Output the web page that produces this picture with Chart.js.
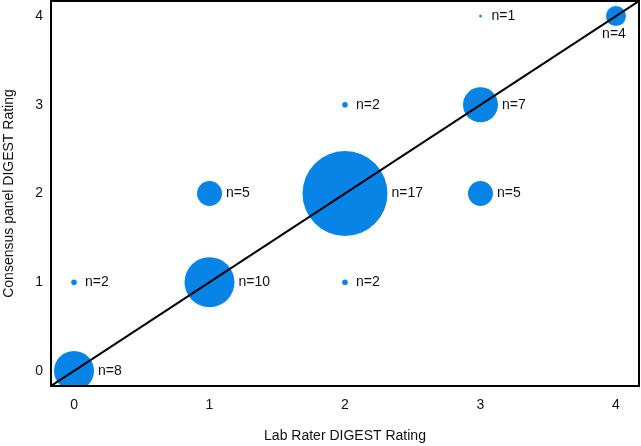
<!DOCTYPE html>
<html>
<head>
<meta charset="utf-8">
<script src="https://cdn.jsdelivr.net/npm/chart.js@4/dist/chart.umd.min.js"></script>
<style>
  html, body { margin: 0; padding: 0; background: #fff; }
  #wrap { width: 641px; height: 446px; }
</style>
</head>
<body>
<div id="wrap"><canvas id="chart"></canvas></div>
<script>
// ratings given by the lab rater (x) and the consensus panel (y), with counts
const labRating = [0, 1, 2, 3, 4, 3, 1, 0, 2, 2, 3];
const panelRating = [0, 1, 2, 3, 4, 2, 2, 1, 3, 1, 4];
const counts = [8, 10, 17, 7, 4, 5, 5, 2, 2, 2, 1];
const tickValues = [0, 1, 2, 3, 4];
const axisMin = -0.17;
const axisMax = 4.17;

const blue = "rgb(8, 132, 230)";
const fontFamily = "'Liberation Sans', Arial, sans-serif";

// size scale for the bubbles
const radiusFor = (n) => (n <= 2 ? 1.4 * n : 2.5 * n);

const points = labRating.map((x, i) => ({
  x: x,
  y: panelRating[i],
  r: radiusFor(counts[i]),
}));

const countLabels = {
  id: "countLabels",
  afterDatasetsDraw(chart) {
    const ctx = chart.ctx;
    const area = chart.chartArea;
    const meta = chart.getDatasetMeta(1);
    ctx.save();
    ctx.font = "14px " + fontFamily;
    ctx.fillStyle = "#111";
    meta.data.forEach((el, i) => {
      const text = "n=" + counts[i];
      const r = points[i].r;
      const w = ctx.measureText(text).width;
      let x = el.x + Math.max(r + 4, 11);
      if (x + w > area.right) {
        // no room on the right: put it under the bubble
        ctx.textAlign = "center";
        ctx.textBaseline = "top";
        ctx.fillText(text, el.x - 2, el.y + r + 1);
      } else {
        ctx.textAlign = "left";
        ctx.textBaseline = "middle";
        ctx.fillText(text, x, el.y);
      }
    });
    ctx.restore();
  },
  afterDraw(chart) {
    const ctx = chart.ctx;
    const a = chart.chartArea;
    ctx.save();
    ctx.strokeStyle = "#000";
    ctx.lineWidth = 2;
    ctx.strokeRect(a.left, a.top, a.right - a.left, a.bottom - a.top);
    ctx.restore();
  },
};

new Chart(document.getElementById("chart"), {
  type: "bubble",
  data: {
    datasets: [
      {
        type: "line",
        data: [
          { x: axisMin, y: axisMin },
          { x: axisMax, y: axisMax },
        ],
        borderColor: "#000",
        borderWidth: 2,
        pointRadius: 0,
        tension: 0,
        order: 0,
      },
      {
        data: points,
        backgroundColor: blue,
        borderWidth: 0,
        order: 1,
      },
    ],
  },
  options: {
    responsive: true,
    maintainAspectRatio: false,
    animation: false,
    events: [],
    layout: { autoPadding: false, padding: { top: 1, right: 2, left: 0, bottom: 0 } },
    plugins: {
      legend: { display: false },
      tooltip: { enabled: false },
    },
    scales: {
      x: {
        type: "linear",
        min: axisMin,
        max: axisMax,
        afterBuildTicks: (s) => { s.ticks = tickValues.map((v) => ({ value: v })); },
        afterFit: (s) => {
          s.height = 60;
          s.paddingLeft = 0;
          s.paddingRight = 0;
        },
        grid: { display: false, drawTicks: false },
        border: { display: false },
        ticks: { color: "#111", padding: 11, font: { size: 14, family: fontFamily } },
        title: {
          display: true,
          text: "Lab Rater DIGEST Rating",
          color: "#111",
          padding: { top: 0, bottom: 1 },
          font: { size: 14, family: fontFamily },
        },
      },
      y: {
        type: "linear",
        min: axisMin,
        max: axisMax,
        afterBuildTicks: (s) => { s.ticks = tickValues.map((v) => ({ value: v })); },
        afterFit: (s) => {
          s.width = 51;
          s.paddingTop = 0;
          s.paddingBottom = 0;
        },
        grid: { display: false, drawTicks: false },
        border: { display: false },
        ticks: { color: "#111", padding: 8, font: { size: 14, family: fontFamily } },
        title: {
          display: true,
          text: "Consensus panel DIGEST Rating",
          color: "#111",
          padding: { top: 1, bottom: 0 },
          font: { size: 14, family: fontFamily },
        },
      },
    },
  },
  plugins: [countLabels],
});
</script>
</body>
</html>
